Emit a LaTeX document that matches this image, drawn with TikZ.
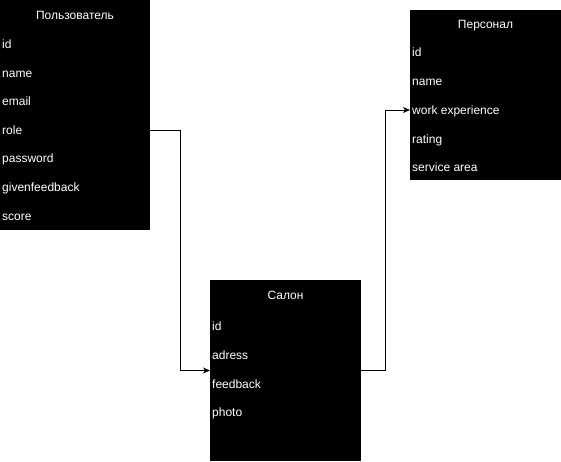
\documentclass[tikz,border=0pt]{standalone}
\usepackage{fontspec}
\setmainfont{Liberation Sans}
\usetikzlibrary{arrows.meta}
\begin{document}
\begin{tikzpicture}[x=1pt,y=-1pt,
  tbox/.style={fill=black,draw=none,anchor=north west,inner sep=0pt,outer sep=0pt},
  ttl/.style={text=white,inner sep=0pt,font=\fontsize{12}{14}\selectfont,text height=8.6pt,text depth=2.5pt},
  fld/.style={text=white,anchor=west,inner sep=0pt,font=\fontsize{12}{14}\selectfont,text height=8.6pt,text depth=2.5pt},
  conn/.style={draw=black,line width=1pt,-{Stealth[length=7pt,width=6pt,inset=2pt]}}]
\useasboundingbox (0,0) rectangle (561,461);
% Пользователь
\node[tbox,minimum width=150pt,minimum height=230pt] (u) at (0,0) {};
\node[ttl] (ut) at (75,16) {Пользователь};
\node[fld] (u1) at (2,45) {id};
\node[fld] (u2) at (2,74) {name};
\node[fld] (u3) at (2,102) {email};
\node[fld] (u4) at (2,131) {role};
\node[fld] (u5) at (2,159) {password};
\node[fld] (u6) at (2,188) {givenfeedback};
\node[fld] (u7) at (2,217) {score};
% Персонал
\node[tbox,minimum width=151pt,minimum height=170pt] (p) at (410,10) {};
\node[ttl] (pt) at (485.5,25) {Персонал};
\node[fld] (p1) at (412,53) {id};
\node[fld] (p2) at (412,82) {name};
\node[fld] (p3) at (412,111) {work experience};
\node[fld] (p4) at (412,140) {rating};
\node[fld] (p5) at (412,168) {service area};
% Салон
\node[tbox,minimum width=151pt,minimum height=181pt] (s) at (210,280) {};
\node[ttl] (st) at (285.5,296) {Салон};
\node[fld] (s1) at (212,327) {id};
\node[fld] (s2) at (212,356) {adress};
\node[fld] (s3) at (212,385) {feedback};
\node[fld] (s4) at (212,413) {photo};
% connectors
\draw[conn] (u.east |- 0,130) -- ++(30,0) |- (s.west);
\draw[conn] (s.east) -- ++(24,0) |- (p.west |- 0,110);
\end{tikzpicture}
\end{document}
